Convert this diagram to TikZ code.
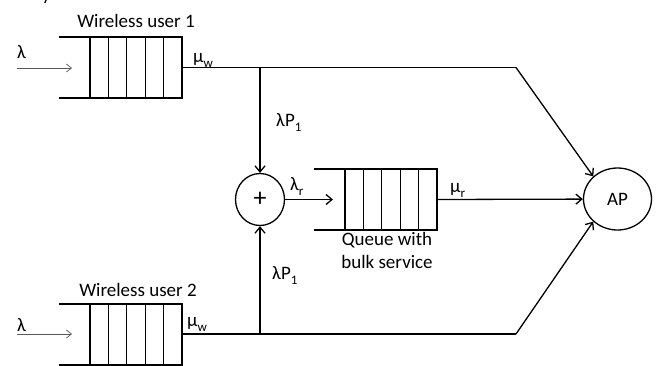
\documentclass[tikz,border=0pt]{standalone}
\usepackage{fontspec}
\setmainfont{Carlito}
\usetikzlibrary{arrows.meta,shapes.geometric}
\newcommand\qsub[1]{\raisebox{-0.3em}{\fontsize{13}{13}\selectfont #1}}
\begin{document}
\begin{tikzpicture}[x=1pt,y=-1pt,
  line/.style={line width=1.3pt},
  flow/.style={line width=1.3pt,-{Straight Barb[length=6pt,width=10pt]}},
  inflow/.style={line width=0.7pt,black!65,-{Straight Barb[length=5pt,width=8pt]}},
  lbl/.style={inner sep=0pt,font=\fontsize{19}{23}\selectfont},
  fifo/.pic={
    \draw[line] (-31,-30.5) -- (92,-30.5) -- (92,30.5) -- (-31,30.5);
    \foreach \k in {0,1,2,3,4} \draw[line] (18.4*\k,-30.5) -- (18.4*\k,30.5);
  }]
\useasboundingbox (0,0) rectangle (658,365);
\clip (0,0) rectangle (658,365);

% queues
\pic at (90,67.5) {fifo};
\pic at (345,199.5) {fifo};
\pic at (90,334.5) {fifo};

% points
\coordinate (o1) at (182,67.5);
\coordinate (j1) at (260,67.5);
\coordinate (k1) at (516,67.5);
\coordinate (o2) at (182,334);
\coordinate (j2) at (260,334);
\coordinate (k2) at (516,334);
\coordinate (o3) at (437,199.5);
\coordinate (r3) at (333,199.5);
\coordinate (a1s) at (17,68);
\coordinate (a1e) at (72,68);
\coordinate (a2s) at (17,334);
\coordinate (a2e) at (72,334);

% nodes
\node[draw,line,ellipse,minimum width=49pt,minimum height=52pt,inner sep=0pt,font=\fontsize{26}{26}\selectfont] (plus) at (260,199.5) {+};
\node[draw,line,ellipse,minimum width=68pt,minimum height=62pt,inner sep=0pt,lbl] (ap) at (617.5,199) {AP};

% connectors
\draw[line] (o1) -- (k1);
\draw[flow] (k1) -- (ap.137);
\draw[flow] (j1) -- (plus);
\draw[line] (o2) -- (k2);
\draw[flow] (k2) -- (ap.223);
\draw[flow] (j2) -- (plus);
\draw[flow] (plus) -- (r3);
\draw[flow] (o3) -- (ap);
\draw[inflow] (a1s) -- (a1e);
\draw[inflow] (a2s) -- (a2e);

% labels
\node[lbl,anchor=base west] (frag) at (42,0) {y};
\node[lbl,anchor=base] (t1) at (136,27) {Wireless user 1};
\node[lbl,anchor=base west] (l1) at (17,58) {λ};
\node[lbl,anchor=base west] (m1) at (193,62) {μ\qsub{w}};
\node[lbl,anchor=base west] (p1) at (276,126) {λP\qsub{1}};
\node[lbl,anchor=base west] (lr) at (290,190) {λ\qsub{r}};
\node[lbl,anchor=base west] (mr) at (450,192) {μ\qsub{r}};
\node[lbl,anchor=base] (qa) at (387,245) {Queue with};
\node[lbl,anchor=base] (qb) at (387,268) {bulk service};
\node[lbl,anchor=base] (t2) at (138,296) {Wireless user 2};
\node[lbl,anchor=base west] (l2) at (17,331) {λ};
\node[lbl,anchor=base west] (m2) at (187,326) {μ\qsub{w}};
\node[lbl,anchor=base west] (p2) at (272,279) {λP\qsub{1}};
\end{tikzpicture}
\end{document}
